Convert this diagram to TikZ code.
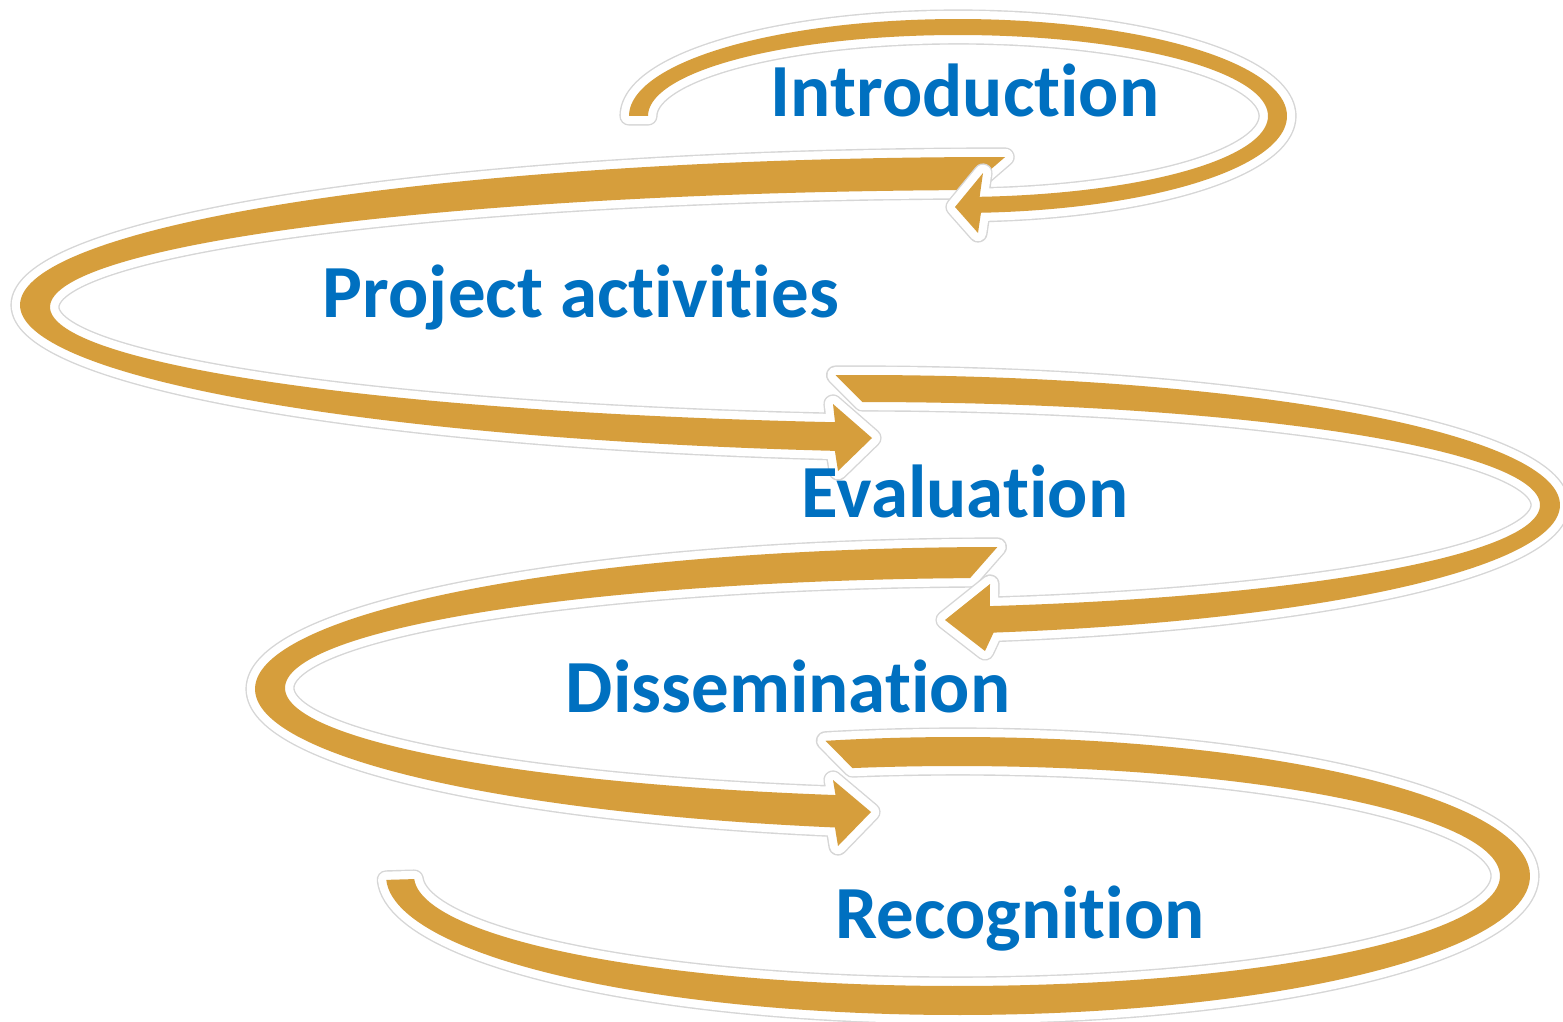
\documentclass[tikz,border=0pt]{standalone}
\usepackage{fontspec}
\setmainfont{Carlito}[Ligatures={NoCommon}]
\definecolor{gold}{RGB}{214,158,60}
\definecolor{txtblue}{RGB}{0,112,192}
\tikzset{
  ribbon/.style={fill=gold, line join=round,
    preaction={draw=black!16, line width=9.6pt, line join=round},
    preaction={draw=white, line width=8.2pt, line join=round}},
  label/.style={anchor=base, text=txtblue, font=\fontsize{37.5}{41}\selectfont\bfseries, inner sep=0pt}
}
\begin{document}
\begin{tikzpicture}[x=0.5pt, y=-0.5pt]
\useasboundingbox (0,0) rectangle (1563,1022);
\fill[white] (0,0) rectangle (1563,1022);
\clip (0,0) rectangle (1563,1022);
% segment 5 (bottom loop, ends flat at left)
\path[ribbon] plot[domain=256.6:538.4, samples=160] ({958+572*cos(\x)},{876+139*sin(\x)})
  -- plot[domain=538.4:258.9, samples=160] ({957+543*cos(\x)},{876+110*sin(\x)}) -- cycle;
% segment 4 (left loop)
\path[ribbon] plot[domain=269.8:102.8, samples=160] ({1000+745*cos(\x)},{689+142*sin(\x)})
  -- (838,846) -- (871,812) -- (833,780)
  -- plot[domain=103.3:267.6, samples=160] ({1000+715*cos(\x)},{688+110*sin(\x)}) -- cycle;
% segment 3 (right loop)
\path[ribbon] plot[domain=268:439, samples=160] ({860+700*cos(\x)},{505+130*sin(\x)})
  -- (985,651) -- (945,620) -- (990,584)
  -- plot[domain=439:270.2, samples=160] ({860+680*cos(\x)},{505+103*sin(\x)}) -- cycle;
% segment 2 (big left loop)
\path[ribbon] plot[domain=270.3:99.7, samples=180] ({1000+980*cos(\x)},{305+148*sin(\x)})
  -- (838,471) -- (872,438) -- (833,404)
  -- plot[domain=100:268, samples=180] ({1000+950*cos(\x)},{307+117*sin(\x)}) -- cycle;
% segment 1 (top loop)
\path[ribbon] plot[domain=180:446, samples=160] ({958+329*cos(\x)},{116+97*sin(\x)})
  -- (978,233) -- (955,207) -- (983,173)
  -- plot[domain=446:180, samples=160] ({958+310*cos(\x)},{116+81*sin(\x)}) -- cycle;
% labels
\node[label] (intro) at (965,117) {Introduction};
\node[label] (proj) at (581,317) {Project activities};
\node[label] (eval) at (965,517) {Evaluation};
\node[label] (diss) at (788,712) {Dissemination};
\node[label] (reco) at (1020,938) {Recognition};
\end{tikzpicture}
\end{document}
